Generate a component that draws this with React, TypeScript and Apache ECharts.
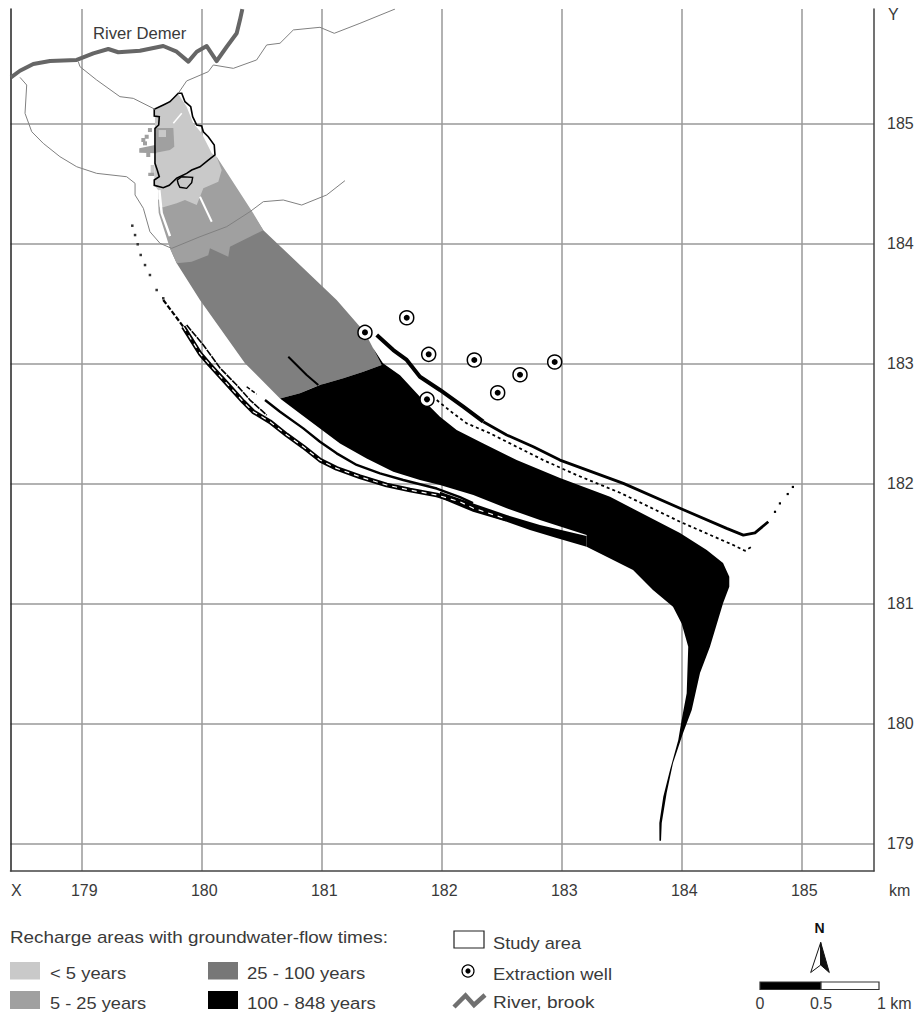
import React, { useEffect, useRef } from "react";
import * as echarts from "echarts";

type P = [number, number];

const tickKm = [179, 180, 181, 182, 183, 184, 185];

const studyArea: P[] = [[179.608,185.117],[179.608,185.061],[179.65,185.055],[179.645,184.986],[179.614,184.958],[179.614,184.667],[179.633,184.611],[179.65,184.555],[179.608,184.528],[179.608,184.483],[179.683,184.463],[179.733,184.483],[179.795,184.542],[179.878,184.583],[179.92,184.611],[179.989,184.638],[180.058,184.694],[180.114,184.736],[180.108,184.819],[180.058,184.888],[180.017,184.93],[180.003,184.978],[179.962,184.986],[179.928,185.055],[179.912,185.138],[179.864,185.18],[179.837,185.25],[179.808,185.25],[179.739,185.18],[179.683,185.153]];
const studyHole: P[] = [[179.8,184.528],[179.837,184.555],[179.928,184.55],[179.92,184.505],[179.878,184.458],[179.822,184.467],[179.808,184.494]];

const zoneUnder5: P[] = [[179.808,185.245],[179.878,185.138],[179.933,185.0],[180.003,184.917],[180.087,184.75],[180.128,184.722],[180.17,184.611],[180.142,184.514],[180.017,184.458],[179.989,184.388],[179.962,184.319],[179.864,184.361],[179.795,184.333],[179.683,184.3],[179.65,184.305],[179.639,184.444],[179.608,184.486],[179.614,184.96],[179.614,185.11],[179.698,185.161]];
const zone5to25: P[] = [[180.128,184.722],[180.433,184.25],[180.517,184.11],[180.406,184.055],[180.239,183.972],[180.225,183.888],[180.072,183.958],[180.058,183.9],[179.92,183.847],[179.795,183.833],[179.739,183.958],[179.645,184.252],[179.639,184.361],[179.822,184.528]];
const zone25to100: P[] = [[180.406,184.278],[180.517,184.11],[181.128,183.528],[181.364,183.258],[181.431,183.128],[181.503,182.986],[181.35,182.93],[181.183,182.875],[180.989,182.819],[180.92,182.792],[180.822,182.75],[180.656,182.708],[180.364,183.0],[179.989,183.528],[179.795,183.833],[179.739,183.958]];
const zone100to848: P[] = [[181.431,183.128],[181.514,183.0],[181.656,182.9],[181.822,182.722],[181.989,182.555],[182.128,182.444],[182.35,182.333],[182.628,182.194],[182.989,182.044],[183.406,181.888],[183.989,181.586],[184.212,181.444],[184.348,181.336],[184.4,181.222],[184.4,181.138],[184.348,181.0],[184.239,180.638],[184.156,180.419],[184.087,180.111],[184.015,179.919],[183.931,179.669],[183.878,179.419],[183.837,179.169],[183.831,179.022],[183.818,179.022],[183.817,179.169],[183.85,179.388],[183.906,179.611],[183.975,179.861],[184.003,180.028],[184.045,180.252],[184.058,180.638],[184.003,180.833],[183.931,180.972],[183.764,181.111],[183.598,181.278],[183.378,181.388],[183.211,181.472],[183.211,181.569],[182.822,181.694],[182.545,181.792],[182.267,181.903],[181.989,181.986],[181.822,182.028],[181.6,182.097],[181.378,182.208],[181.156,182.333],[180.989,182.458],[180.822,182.583],[180.656,182.708],[180.822,182.75],[180.989,182.819],[181.183,182.875],[181.35,182.93],[181.503,182.986]];
const lowerRibbon: P[] = [[181.989,181.93],[182.267,181.833],[182.545,181.736],[182.822,181.653],[183.211,181.561],[183.211,181.472],[182.961,181.544],[182.739,181.611],[182.545,181.68],[182.264,181.763],[181.989,181.878]];

const patchUpper: P[] = [[179.622,184.96],[179.767,184.96],[179.775,184.805],[179.739,184.778],[179.622,184.755]];
const patchInner: P[] = [[179.645,184.944],[179.706,184.944],[179.706,184.886],[179.645,184.886]];
const patchWest: P[] = [[179.483,184.792],[179.614,184.819],[179.628,184.75],[179.483,184.755]];
const patchBlockLight: P[] = [[179.578,184.653],[179.608,184.653],[179.608,184.586],[179.578,184.586]];
const patchBlockMid: P[] = [[179.558,184.588],[179.608,184.588],[179.608,184.561],[179.558,184.561]];
const patchDots: P[] = [[179.517,184.861],[179.545,184.888],[179.531,184.833],[179.572,184.944],[179.558,184.736]];

const slitA: P[] = [[179.989,184.388],[180.087,184.18]];
const slitB: P[] = [[179.65,184.444],[179.67,184.252],[179.739,184.06]];
const slitC: P[] = [[179.837,185.083],[179.767,185.0]];
const spike: P[] = [[180.725,183.055],[180.878,182.903],[180.975,182.819]];

const flowOuterTop: P[] = [[179.683,183.528],[179.767,183.417],[179.85,183.305]];
const flowOuter: P[] = [[179.85,183.305],[179.989,183.083],[180.072,182.986],[180.212,182.833],[180.35,182.68],[180.433,182.597],[180.572,182.514],[180.712,182.403],[180.85,182.305],[180.989,182.194],[181.128,182.125],[181.322,182.055],[181.545,181.986],[181.739,181.944],[181.962,181.903],[182.155,181.847],[182.264,181.794],[182.545,181.702]];
const flowTwin: P[] = [[179.878,183.319],[180.017,183.153],[180.156,182.961],[180.295,182.819],[180.406,182.694],[180.545,182.569]];
const flowInner: P[] = [[180.531,182.694],[180.656,182.597],[180.85,182.458],[180.989,182.347],[181.128,182.25],[181.295,182.153],[181.489,182.083],[181.683,182.028],[181.962,181.957],[182.155,181.886],[182.264,181.836]];
const flowDash: P[] = [[180.378,182.805],[180.461,182.744]];
const flowDots: P[] = [[179.425,184.147],[179.448,184.069],[179.47,183.992],[179.495,183.903],[179.531,183.819],[179.572,183.736],[179.628,183.611],[179.683,183.542]];
const flowUpperStart: P[] = [[181.462,183.236],[181.6,183.111],[181.712,183.028],[181.822,182.888],[181.989,182.778],[182.183,182.639],[182.35,182.514]];
const flowUpper: P[] = [[182.35,182.514],[182.545,182.403],[182.767,182.305],[182.989,182.194],[183.517,182.0],[183.989,181.792],[184.378,181.625],[184.517,181.569],[184.614,181.588],[184.725,181.68]];
const flowUpperDots: P[] = [[184.781,181.763],[184.822,181.833],[184.887,181.911],[184.93,181.97]];
const flowSecond: P[] = [[181.962,182.694],[182.1,182.583],[182.212,182.5],[182.406,182.417],[182.628,182.305],[182.85,182.194],[183.128,182.069],[183.489,181.922],[183.989,181.68],[184.433,181.486],[184.531,181.438],[184.587,181.472]];

const riverDemer: P[] = [[178.414,185.383],[178.489,185.438],[178.6,185.494],[178.739,185.519],[178.962,185.528],[179.1,185.583],[179.225,185.619],[179.308,185.592],[179.489,185.605],[179.683,185.644],[179.795,185.597],[179.892,185.514],[179.962,185.597],[180.045,185.644],[180.128,185.519],[180.212,185.638],[180.295,185.75],[180.322,185.86],[180.342,185.952]];
const brookSouth: P[] = [[178.489,185.383],[178.545,185.319],[178.531,185.083],[178.587,184.93],[178.683,184.833],[178.822,184.722],[178.962,184.638],[179.128,184.583],[179.378,184.555],[179.448,184.5],[179.448,184.403],[179.517,184.292],[179.572,184.097],[179.656,184.0],[179.753,183.958],[179.989,184.055],[180.212,184.139],[180.406,184.264],[180.517,184.347],[180.683,184.361],[180.837,184.319],[181.045,184.403],[181.197,184.522]];
const brookMiddle: P[] = [[178.975,185.514],[178.989,185.472],[179.128,185.361],[179.322,185.222],[179.433,185.208],[179.614,185.117]];
const brookEast: P[] = [[179.808,185.25],[179.878,185.353],[180.058,185.43],[180.1,185.486],[180.267,185.458],[180.461,185.528],[180.545,185.653],[180.656,185.667],[180.767,185.778],[180.989,185.8],[181.108,185.75],[181.322,185.833],[181.614,185.952]];

const wells: P[] = [[181.364,183.258],[181.712,183.38],[181.895,183.075],[182.275,183.028],[182.656,182.905],[182.945,183.011],[182.47,182.755],[181.881,182.7]];

const LIGHT = "#c9c9c9";
const MID = "#a0a0a0";
const DARK = "#7f7f7f";
const BLACK = "#000000";
const FONT = "'Liberation Sans', Arial, sans-serif";
const TEXT = "#3a3a3a";

function polygon(points: P[], fill: string, stroke?: string, lineWidth = 0) {
  return {
    type: "custom",
    coordinateSystem: "cartesian2d",
    silent: true,
    data: points,
    renderItem: (params: any, api: any) => {
      if (params.dataIndex !== 0) return null;
      return {
        type: "polygon",
        shape: { points: points.map((p) => api.coord(p)) },
        style: { fill, stroke: stroke ?? "none", lineWidth },
      };
    },
  };
}

function line(points: P[], color: string, width: number, dash?: number[]) {
  return {
    type: "line",
    silent: true,
    data: points,
    showSymbol: false,
    symbol: "none",
    lineStyle: { color, width, type: dash ?? "solid", join: "round" },
  };
}

function dots(points: P[], color: string, size: number, symbol = "rect") {
  return { type: "scatter", silent: true, data: points, symbol, symbolSize: size, itemStyle: { color, opacity: 1 } };
}

function label(x: number, y: number, text: string, scaleX = 1, extra: any = {}) {
  return {
    type: "text",
    x,
    y,
    scaleX,
    silent: true,
    style: { text, fill: TEXT, font: `16px ${FONT}`, textAlign: "left", textVerticalAlign: "middle", ...extra },
  };
}

function swatch(x: number, y: number, w: number, h: number, fill: string, stroke?: string) {
  return { type: "rect", silent: true, shape: { x, y, width: w, height: h }, style: { fill, stroke: stroke ?? "none", lineWidth: stroke ? 1.2 : 0 } };
}

const axisCommon = {
  type: "value",
  axisTick: { show: false, customValues: tickKm },
  axisLine: { show: true, onZero: false, lineStyle: { color: "#444444", width: 1.5 } },
  splitLine: { show: true, lineStyle: { color: "#999999", width: 1.5 } },
};

export default function App() {
  const ref = useRef<HTMLDivElement>(null);
  useEffect(() => {
    const chart = echarts.init(ref.current!, undefined, { renderer: "svg" });
    chart.setOption({
      animation: false,
      backgroundColor: "#ffffff",
      tooltip: { show: false },
      grid: { left: 10.5, top: 9, width: 863.5, height: 862, containLabel: false },
      xAxis: {
        ...axisCommon,
        min: 178.41,
        max: 185.606,
        position: "bottom",
        axisLabel: {
          customValues: tickKm,
          color: TEXT,
          fontFamily: "Liberation Sans",
          fontSize: 16,
          margin: 11,
          padding: [0, 0, 0, 6],
        },
      },
      yAxis: [
        {
          ...axisCommon,
          min: 178.77,
          max: 185.9525,
          position: "right",
          axisLabel: {
            customValues: tickKm,
            color: TEXT,
            fontFamily: "Liberation Sans",
            fontSize: 16,
            margin: 13,
          },
        },
        {
          type: "value",
          min: 178.77,
          max: 185.9525,
          position: "left",
          axisTick: { show: false },
          axisLabel: { show: false },
          splitLine: { show: false },
          axisLine: { show: true, onZero: false, lineStyle: { color: "#222222", width: 1.5 } },
        },
      ],
      series: [
        polygon(zone25to100, DARK),
        polygon(zone5to25, MID),
        polygon(zoneUnder5, LIGHT),
        polygon(patchUpper, MID),
        polygon(patchInner, LIGHT),
        polygon(patchWest, MID),
        polygon(patchBlockLight, LIGHT),
        polygon(patchBlockMid, MID),
        dots(patchDots, MID, 4),
        line(slitA, "#ffffff", 2),
        line(slitB, "#ffffff", 2.5),
        line(slitC, "#ffffff", 1.5),
        polygon(zone100to848, BLACK),
        polygon(lowerRibbon, BLACK),
        line(spike, BLACK, 2),
        line(flowOuterTop, BLACK, 2.2, [5, 2]),
        line(flowOuter, BLACK, 4.6),
        line(flowOuter, "#ffffff", 1.2, [5, 5]),
        line(flowTwin, BLACK, 1.6, [7, 1]),
        line(flowInner, BLACK, 2.4),
        line(flowDash, BLACK, 1.5, [4, 2]),
        dots(flowDots, "#333333", 2.5),
        line(flowUpperStart, BLACK, 4),
        line(flowUpper, BLACK, 2.8),
        dots(flowUpperDots, BLACK, 2.2),
        line(flowSecond, BLACK, 1.8, [3, 3]),
        line(brookSouth, "#808080", 1),
        line(brookMiddle, "#808080", 1),
        line(brookEast, "#808080", 1),
        line(riverDemer, "#666666", 4),
        polygon(studyArea, "none", BLACK, 1.6),
        polygon(studyHole, "none", BLACK, 1.4),
        {
          type: "scatter",
          silent: true,
          data: wells,
          symbol: "circle",
          symbolSize: 14,
          itemStyle: { color: "#ffffff", borderColor: BLACK, borderWidth: 1.5, opacity: 1 },
        },
        dots(wells, BLACK, 6, "circle"),
      ],
      graphic: [
        label(93, 33, "River Demer", 1.04),
        label(888, 14, "Y"),
        label(11, 890, "X"),
        label(889, 890, "km"),
        label(10, 938, "Recharge areas with groundwater-flow times:", 1.178),
        swatch(10, 962, 30, 17.5, LIGHT),
        swatch(10, 991, 30, 18, MID),
        swatch(208, 962, 30, 17.5, "#777777"),
        swatch(208, 991, 30, 18, BLACK),
        label(50, 973, "< 5 years", 1.15),
        label(50, 1003, "5 - 25 years", 1.14),
        label(247, 973, "25 - 100 years", 1.157),
        label(247, 1003, "100 - 848 years", 1.16),
        swatch(454, 931, 30, 17, "#ffffff", "#222222"),
        label(493, 943, "Study area", 1.14),
        { type: "circle", silent: true, shape: { cx: 468, cy: 971, r: 6 }, style: { fill: "#ffffff", stroke: BLACK, lineWidth: 1.2 } },
        { type: "circle", silent: true, shape: { cx: 468, cy: 971, r: 2.6 }, style: { fill: BLACK } },
        label(493, 974, "Extraction well", 1.155),
        {
          type: "polyline",
          silent: true,
          shape: { points: [[454, 1007], [465.5, 995.5], [474, 1005], [485, 995]] },
          style: { fill: "none", stroke: "#707070", lineWidth: 4.5 },
        },
        label(493, 1003, "River, brook", 1.19),
        label(819.5, 928, "N", 1, { font: `bold 14px ${FONT}`, textAlign: "center", fill: "#111111" }),
        { type: "polygon", silent: true, shape: { points: [[820.7, 942.5], [810.7, 972.5], [820.7, 965]] }, style: { fill: "#ffffff", stroke: "#111111", lineWidth: 1 } },
        { type: "polygon", silent: true, shape: { points: [[820.7, 942.5], [829.3, 972.5], [820.7, 965]] }, style: { fill: "#111111", stroke: "#111111", lineWidth: 1 } },
        swatch(760, 982, 61, 7.5, BLACK, "#333333"),
        swatch(821, 982, 58, 7.5, "#ffffff", "#333333"),
        label(760, 1003, "0", 1, { textAlign: "center" }),
        label(821, 1003, "0.5", 1, { textAlign: "center" }),
        label(877, 1003, "1 km"),
      ],
    });
    return () => chart.dispose();
  }, []);
  return <div ref={ref} style={{ position: "absolute", left: 0, top: 0, width: 917, height: 1012 }} />;
}
